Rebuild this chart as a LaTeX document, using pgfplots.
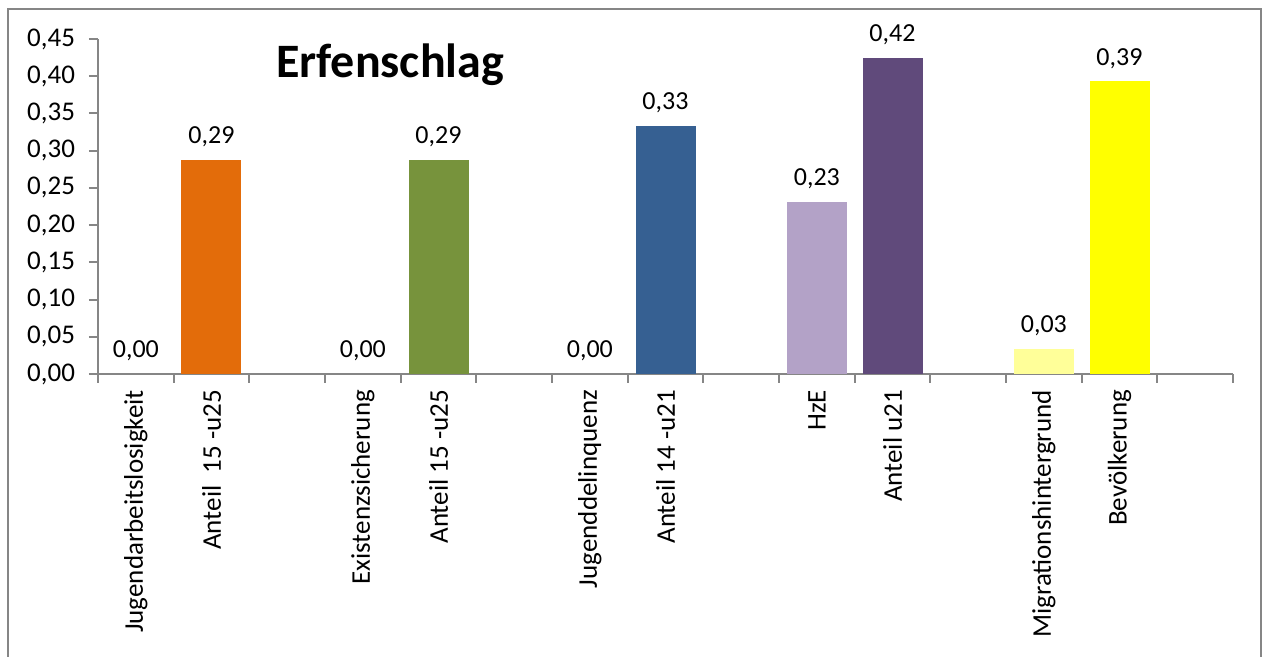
\documentclass[border=0pt]{standalone}
\usepackage{fontspec}
\setmainfont{Carlito}
\usepackage{pgfplots}
\pgfplotsset{compat=1.18}

\definecolor{axisgray}{RGB}{134,134,134}
\definecolor{cOrange}{RGB}{227,108,10}
\definecolor{cGreen}{RGB}{119,147,60}
\definecolor{cBlue}{RGB}{54,96,146}
\definecolor{cLilac}{RGB}{179,162,199}
\definecolor{cPurple}{RGB}{96,74,123}
\definecolor{cLightYellow}{RGB}{255,255,153}
\definecolor{cYellow}{RGB}{255,255,0}

\begin{document}
\begin{tikzpicture}[x=1pt,y=1pt]
% page area = 1264x657 px at 0.5pt per px, origin at the axis' lower left corner
\path[use as bounding box] (-49,-141.5) rectangle (583,187);
\draw[axisgray, line width=1pt] (-45,-160) rectangle (581.5,182.5);
\begin{axis}[
    at={(0,0)}, anchor=south west,
    scale only axis, width=567.5pt, height=167.5pt,
    xmin=0.5, xmax=15.5, ymin=0, ymax=0.45,
    axis lines*=left,
    axis line style={draw=axisgray, line width=1pt},
    tick align=outside,
    major tick length=4.5pt, minor tick length=4.5pt,
    ytick={0,0.05,0.10,0.15,0.20,0.25,0.30,0.35,0.40,0.45},
    ytick style={draw=axisgray, line width=1pt},
    xtick={1,...,15},
    xtick style={draw=none},
    minor xtick={0.5,1.5,...,15.5},
    minor x tick style={draw=axisgray, line width=1pt},
    xticklabels={Jugendarbeitslosigkeit, {Anteil\ \ 15 -u25}, {}, Existenzsicherung, {Anteil 15 -u25}, {}, Jugenddelinquenz, {Anteil 14 -u21}, {}, HzE, {Anteil u21}, {}, Migrationshintergrund, Bevölkerung, {}},
    xticklabel style={rotate=90, anchor=east},
    yticklabel style={xshift=-3.5pt},
    tick label style={font=\fontsize{13.5}{16}\selectfont},
    /pgf/number format/.cd, fixed, fixed zerofill, precision=2, use comma, assume math mode=true,
    /pgfplots/.cd,
    ybar, bar shift=0pt, bar width=30pt,
    nodes near coords,
    every node near coord/.append style={font=\fontsize{13}{16}\selectfont, yshift=3pt},
    clip=false,
]
\addplot[draw=none, fill=none] coordinates {(1,0)};
\addplot[draw=none, fill=cOrange] coordinates {(2,0.288)};
\addplot[draw=none, fill=none] coordinates {(4,0)};
\addplot[draw=none, fill=cGreen] coordinates {(5,0.288)};
\addplot[draw=none, fill=none] coordinates {(7,0)};
\addplot[draw=none, fill=cBlue] coordinates {(8,0.333)};
\addplot[draw=none, fill=cLilac] coordinates {(10,0.231)};
\addplot[draw=none, fill=cPurple] coordinates {(11,0.424)};
\addplot[draw=none, fill=cLightYellow] coordinates {(13,0.034)};
\addplot[draw=none, fill=cYellow] coordinates {(14,0.393)};
\node[font=\fontsize{24}{28}\selectfont\bfseries] at (axis cs:4.36,0.415) {Erfenschlag};
\end{axis}
\end{tikzpicture}
\end{document}
